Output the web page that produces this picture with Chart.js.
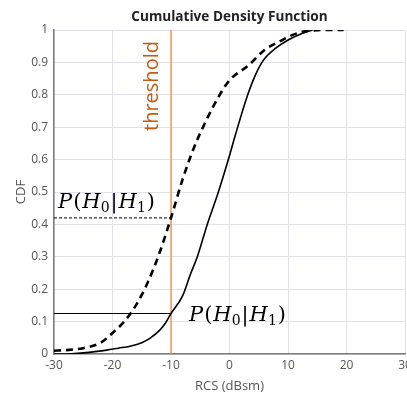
<!DOCTYPE html>
<html>
<head>
<meta charset="utf-8">
<script src="https://cdn.jsdelivr.net/npm/chart.js@4"></script>
<style>
  html, body { margin: 0; padding: 0; background: #fff; }
  #wrap { width: 407px; height: 394px; overflow: hidden; position: relative; }
</style>
</head>
<body>
<div id="wrap"><canvas id="myChart" width="425" height="394"></canvas></div>
<script>
// data
const rcs_h1 = [-30, -27, -24, -21, -19, -17, -15, -13.5, -12, -11, -10, -8, -6.7, -5.5, -3.8, -1.9, -0.2, 1, 3, 4.4, 5.8, 7.9, 10.1, 12.5, 14.2];
const cdf_h1 = [0, 0.001, 0.005, 0.012, 0.018, 0.024, 0.035, 0.05, 0.072, 0.094, 0.125, 0.18, 0.245, 0.3, 0.4, 0.5, 0.6, 0.676, 0.794, 0.86, 0.907, 0.944, 0.97, 0.99, 1.0];

const rcs_h0 = [-30, -28, -25, -22, -20, -18, -16, -14, -12, -10, -8, -6, -4, -1.9, 0, 3.2, 6.1, 8.4, 10.8, 13.3, 17, 19.5];
const cdf_h0 = [0.01, 0.012, 0.018, 0.035, 0.065, 0.1, 0.15, 0.22, 0.31, 0.42, 0.54, 0.64, 0.72, 0.793, 0.845, 0.89, 0.94, 0.963, 0.985, 0.997, 1.0, 1.0];

const threshold = -10;
const missLow = 0.125;   // P(H0|H1) on solid curve
const missHigh = 0.42;   // P(H0|H1) on dashed curve

const xTicks = [-30, -20, -10, 0, 10, 20, 30];
const yTicks = [0, 0.1, 0.2, 0.3, 0.4, 0.5, 0.6, 0.7, 0.8, 0.9, 1];
const yTickLabels = ['0', '0.1', '0.2', '0.3', '0.4', '0.5', '0.6', '0.7', '0.8', '0.9', '1'];

function pts(xs, ys) {
  return xs.map((x, i) => ({ x: x, y: ys[i] }));
}

// title and text labels placed from the chart area / scales
const labelsPlugin = {
  id: 'labels',
  afterDatasetsDraw(chart) {
    const ctx = chart.ctx;
    const xs = chart.scales.x, ys = chart.scales.y;
    const area = chart.chartArea;

    ctx.save();
    ctx.fillStyle = '#222';
    ctx.font = 'bold 13.6px "Open Sans"';
    ctx.textAlign = 'center';
    ctx.textBaseline = 'middle';
    ctx.fillText('Cumulative Density Function', (area.left + area.right) / 2, 17);
    ctx.restore();

    ctx.save();
    ctx.translate(xs.getPixelForValue(threshold) - 19, area.top + 56);
    ctx.rotate(-Math.PI / 2);
    ctx.fillStyle = '#c55a11';
    ctx.font = '20px "Open Sans"';
    ctx.textAlign = 'center';
    ctx.textBaseline = 'middle';
    ctx.fillText('threshold', 0, 0);
    ctx.restore();

    drawP(ctx, xs.getPixelForValue(-30) + 4, ys.getPixelForValue(missHigh) - 10);
    drawP(ctx, xs.getPixelForValue(threshold) + 18, ys.getPixelForValue(missLow) + 7);
  }
};

function drawP(ctx, x, y) {
  const parts = [
    ['P', 'italic 21px "DejaVu Serif"', 0, 1],
    ['(', '21px "DejaVu Serif"', 0, 1],
    ['H', 'italic 21px "DejaVu Serif"', 0, 0],
    ['0', '14px "DejaVu Serif"', 4, 1],
    ['|', '21px "DejaVu Serif"', 0, 1],
    ['H', 'italic 21px "DejaVu Serif"', 0, 0],
    ['1', '14px "DejaVu Serif"', 4, 1],
    [')', '21px "DejaVu Serif"', 0, 0]
  ];
  ctx.save();
  ctx.fillStyle = '#000';
  ctx.textBaseline = 'alphabetic';
  ctx.textAlign = 'left';
  let cx = x;
  parts.forEach(p => {
    ctx.font = p[1];
    ctx.fillText(p[0], cx, y + p[2]);
    cx += ctx.measureText(p[0]).width + p[3];
  });
  ctx.restore();
}

const data = {
  datasets: [
    {
      label: 'H1',
      data: pts(rcs_h1, cdf_h1),
      borderColor: '#000',
      borderWidth: 1.6,
      cubicInterpolationMode: 'monotone'
    },
    {
      label: 'H0',
      data: pts(rcs_h0, cdf_h0),
      borderColor: '#000',
      borderWidth: 2.6,
      borderDash: [7, 5],
      cubicInterpolationMode: 'monotone'
    },
    {
      label: 'threshold',
      data: [{ x: threshold, y: 0 }, { x: threshold, y: 1 }],
      borderColor: '#f0823a',
      borderWidth: 1.2
    },
    {
      label: 'miss high',
      data: [{ x: -30, y: missHigh }, { x: threshold, y: missHigh }],
      borderColor: '#000',
      borderWidth: 1,
      borderDash: [3, 2]
    },
    {
      label: 'miss low',
      data: [{ x: -30, y: missLow }, { x: threshold, y: missLow }],
      borderColor: '#000',
      borderWidth: 1
    }
  ]
};

const config = {
  type: 'scatter',
  data: data,
  options: {
    responsive: false,
    animation: false,
    showLine: true,
    elements: { point: { radius: 0 } },
    layout: { padding: { left: 0, right: 20, top: 30, bottom: 0 } },
    plugins: {
      legend: { display: false },
      tooltip: { enabled: false },
      title: { display: false }
    },
    scales: {
      x: {
        type: 'linear',
        min: -30,
        max: 30,
        afterBuildTicks: s => { s.ticks = xTicks.map(v => ({ value: v })); },
        afterFit: s => { s.height = 40; },
        ticks: { color: '#555', font: { family: 'Open Sans', size: 12 }, padding: 4, callback: v => String(v) },
        grid: { color: '#e4e0e9', drawTicks: false },
        border: { color: '#7a7a7a', width: 1.5 },
        title: {
          display: true,
          text: 'RCS (dBsm)',
          color: '#555',
          font: { family: 'Open Sans', size: 13 },
          padding: { top: 0, bottom: 0 }
        }
      },
      y: {
        type: 'linear',
        min: 0,
        max: 1,
        afterBuildTicks: s => { s.ticks = yTicks.map(v => ({ value: v })); },
        afterFit: s => { s.width = 54; },
        ticks: {
          color: '#555',
          font: { family: 'Open Sans', size: 12 },
          padding: 6,
          callback: (v, i) => yTickLabels[i]
        },
        grid: { color: '#e4e0e9', drawTicks: false },
        border: { color: '#7a7a7a', width: 1.5 },
        title: {
          display: true,
          text: 'CDF',
          color: '#555',
          font: { family: 'Open Sans', size: 13 },
          padding: { top: 13, bottom: 0 }
        }
      }
    }
  },
  plugins: [labelsPlugin]
};

const myChart = new Chart(document.getElementById('myChart'), config);
</script>
</body>
</html>
